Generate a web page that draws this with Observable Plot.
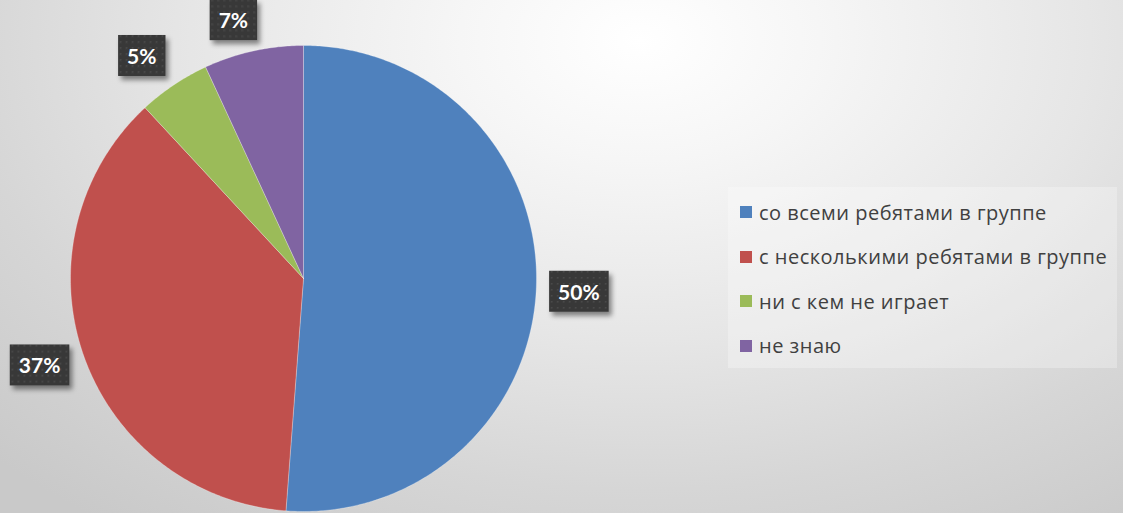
<!DOCTYPE html>
<html><head><meta charset="utf-8">
<script src="https://cdn.jsdelivr.net/npm/d3@7"></script>
<script src="https://cdn.jsdelivr.net/npm/@observablehq/plot@0.6"></script>
<style>
html,body{margin:0;padding:0;}
body{width:1123px;height:513px;overflow:hidden;position:relative;
 background: radial-gradient(ellipse 900px 600px at 640px 40px, #ffffff 0%, #f6f6f6 20%, #e6e6e6 50%, #d6d6d6 75%, #c9c9c9 100%);
 font-family: "Open Sans", Lato, sans-serif;}
#chart{position:absolute;left:0;top:0;}
#legend{position:absolute;left:728px;top:187px;width:389px;height:181px;background:rgba(255,255,255,0.28);box-sizing:border-box;padding-top:3px;}
.item{display:flex;align-items:center;height:44.5px;padding-left:12px;font-size:20px;letter-spacing:0.5px;color:#404040;white-space:nowrap;}
.sw{width:12px;height:12px;margin-right:7px;flex:none;}
</style></head>
<body>
<div id="chart"></div>
<div id="legend"></div>
<script>
const categories = ["со всеми ребятами в группе","с несколькими ребятами в группе","ни с кем не играет","не знаю"];
const values = [51.2, 36.9, 5.0, 6.9];
const labels = ["50%","37%","5%","7%"];
const colors = ["#4f81bd","#c0504d","#9bbb59","#8064a2"];
const labelShift = [[-4,4],[0,-4],[-6,11],[-10,16]];

const pie = d3.pie().sort(null).value(d => d)(values);
const slices = pie.map((a, i) => {
  const pts = [{x:0,y:0}];
  const n = Math.max(2, Math.ceil((a.endAngle - a.startAngle) / 0.01));
  for (let k = 0; k <= n; k++) {
    const t = a.startAngle + (a.endAngle - a.startAngle) * k / n;
    pts.push({x: Math.sin(t), y: Math.cos(t)});
  }
  pts.push({x:0,y:0});
  return pts;
});
const labelData = pie.map((a, i) => {
  const m = (a.startAngle + a.endAngle) / 2;
  return {x: 1.2 * Math.sin(m), y: 1.2 * Math.cos(m), text: labels[i], dx: labelShift[i][0], dy: labelShift[i][1]};
});

const plot = Plot.plot({
  width: 1123, height: 513, margin: 0,
  x: {domain: [-1, 1], range: [70, 536], axis: null},
  y: {domain: [-1, 1], range: [511, 45], axis: null},
  style: {background: "transparent", overflow: "visible"},
  marks: [
    ...slices.map((s, i) => Plot.line(s, {x: "x", y: "y", fill: colors[i], stroke: "#ffffff", strokeOpacity: 0.35, strokeWidth: 0.8, curve: "linear"})),
    ...labelData.map(d => Plot.text([d], {x: "x", y: "y", text: "text", dx: d.dx, dy: d.dy, fill: "white", fontSize: 21, fontWeight: "bold", fontFamily: "Lato, 'Open Sans', sans-serif", className: "lbl"}))
  ]
});
document.getElementById("chart").appendChild(plot);

// label boxes
const ns = "http://www.w3.org/2000/svg";
const svg = plot.tagName === "svg" ? plot : plot.querySelector("svg");
const defs = document.createElementNS(ns, "defs");
defs.innerHTML = `
<pattern id="dots" width="6" height="6" patternUnits="userSpaceOnUse">
  <rect width="6" height="6" fill="#393939"/>
  <rect x="2" y="2" width="1.5" height="1.5" fill="#4c4c4c"/>
</pattern>
<filter id="sh" x="-30%" y="-30%" width="160%" height="170%">
  <feDropShadow dx="3" dy="4" stdDeviation="2.5" flood-color="#000" flood-opacity="0.45"/>
</filter>`;
svg.insertBefore(defs, svg.firstChild);
svg.querySelectorAll(".lbl text").forEach(t => {
  const b = t.getBBox();
  const r = document.createElementNS(ns, "rect");
  const padX = 9, h = 41;
  r.setAttribute("x", b.x - padX);
  r.setAttribute("y", b.y + b.height / 2 - h / 2);
  r.setAttribute("width", b.width + 2 * padX);
  r.setAttribute("height", h);
  r.setAttribute("fill", "url(#dots)");
  r.setAttribute("filter", "url(#sh)");
  if (t.getAttribute("transform")) r.setAttribute("transform", t.getAttribute("transform"));
  t.parentNode.insertBefore(r, t);
});

const lg = document.getElementById("legend");
categories.forEach((c, i) => {
  const it = document.createElement("div");
  it.className = "item";
  it.innerHTML = `<span class="sw" style="background:${colors[i]}"></span><span>${c}</span>`;
  lg.appendChild(it);
});
</script>
</body></html>
